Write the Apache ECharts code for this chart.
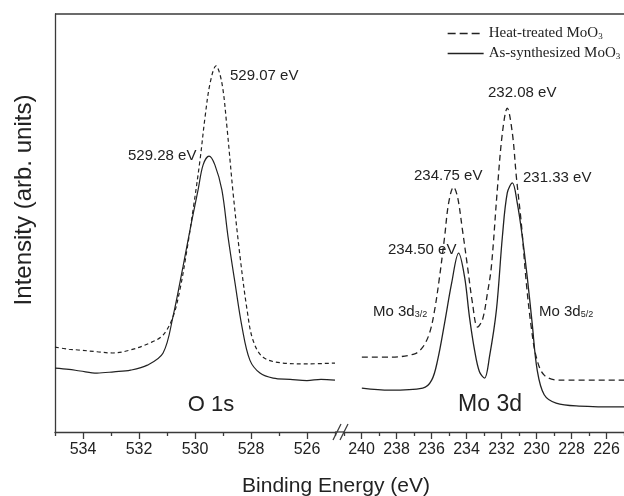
<!DOCTYPE html>
<html>
<head>
<meta charset="utf-8">
<script src="https://cdn.jsdelivr.net/npm/echarts@6/dist/echarts.min.js"></script>
<style>html,body{margin:0;padding:0;background:#fff;}#c{width:624px;height:496px;}</style>
</head>
<body>
<div id="c"></div>
<script>
// ---- data ----
const o1sAsE   = [535.0, 534.5, 534.1, 533.5, 532.9, 532.3, 531.7, 531.14, 530.79, 530.43, 530.11, 529.89, 529.71, 529.5, 529.29, 529.04, 528.82, 528.57, 528.32, 528.04, 527.68, 527.21, 526.6, 526.0, 525.5, 525.0];
const o1sAsI   = [15.3, 15.0, 14.6, 14.1, 14.4, 14.8, 16.0, 18.9, 27.5, 39.5, 50.7, 57.9, 63.9, 66.0, 63.9, 57.9, 46.7, 35.6, 25.1, 17.2, 14.1, 12.9, 12.6, 12.3, 12.6, 12.4];
const o1sHeatE = [535.0, 534.5, 534.11, 533.5, 532.93, 532.32, 531.61, 531.14, 530.79, 530.54, 530.29, 530.07, 529.82, 529.64, 529.46, 529.25, 529.04, 528.86, 528.64, 528.39, 528.14, 527.93, 527.57, 526.86, 526.0, 525.0];
const o1sHeatI = [20.3, 19.8, 19.6, 19.2, 18.9, 19.6, 21.3, 23.2, 27.5, 34.0, 43.5, 53.1, 65.1, 75.4, 83.5, 87.6, 83.5, 73.0, 57.2, 41.9, 29.2, 22.0, 17.9, 16.5, 16.3, 16.5];
const mo3dHeatE = [239.98, 238.38, 236.96, 236.5, 236.11, 235.82, 235.54, 235.25, 235.02, 234.74, 234.51, 234.23, 233.94, 233.66, 233.37, 233.09, 232.8, 232.58, 232.24, 231.95, 231.67, 231.38, 231.15, 230.87, 230.58, 230.3, 230.01, 229.56, 228.71, 225.0];
const mo3dHeatI = [17.9, 17.9, 18.7, 20.3, 23.7, 29.2, 37.1, 46.7, 54.8, 58.6, 56.2, 48.3, 39.5, 30.9, 25.1, 26.8, 33.3, 39.5, 57.9, 71.5, 77.5, 71.5, 61.0, 50.0, 35.6, 25.1, 17.9, 13.6, 12.4, 12.4];
const mo3dAsE   = [239.98, 238.38, 236.5, 235.99, 235.65, 235.25, 234.85, 234.45, 234.11, 233.83, 233.54, 233.26, 232.97, 232.69, 232.29, 231.95, 231.67, 231.38, 231.1, 230.81, 230.53, 230.25, 229.96, 229.56, 228.88, 227.57, 225.0];
const mo3dAsI   = [10.5, 10.0, 10.5, 12.4, 17.2, 26.1, 35.6, 42.8, 37.1, 27.5, 19.6, 14.4, 12.9, 17.9, 29.2, 46.7, 57.2, 59.6, 54.8, 46.7, 37.1, 26.1, 14.8, 8.9, 6.9, 6.2, 6.0];
const leftMajorTicks  = [534, 532, 530, 528, 526];
const leftMinorTicks  = [535, 533, 531, 529, 527, 525];
const rightMajorTicks = [240, 238, 236, 234, 232, 230, 228, 226];
const rightMinorTicks = [241, 239, 237, 235, 233, 231, 229, 227, 225];
const seriesNames = ['Heat-treated MoO3', 'As-synthesized MoO3'];

const pairs = (xs, ys) => xs.map((x, i) => [x, ys[i]]);
const SANS = "'Liberation Sans', Arial, sans-serif";
const SERIF = "'Liberation Serif', 'Times New Roman', serif";
const INK = '#222';
const AX = '#3a3a3a';

function mainX(grid, min, max, ticks) {
  return {
    type: 'value', gridIndex: grid, min: min, max: max, inverse: true, position: 'bottom',
    axisLine: { show: true, onZero: false, lineStyle: { color: AX, width: 1.3 } },
    axisTick: { show: true, inside: false, length: 7, customValues: ticks, lineStyle: { color: AX, width: 1.3 } },
    axisLabel: { show: true, customValues: ticks, margin: 10, fontSize: 16, color: INK, fontFamily: SANS },
    splitLine: { show: false }
  };
}
function minorX(grid, min, max, ticks) {
  return {
    type: 'value', gridIndex: grid, min: min, max: max, inverse: true, position: 'bottom',
    axisLine: { show: false, onZero: false },
    axisTick: { show: true, inside: false, length: 4, customValues: ticks, lineStyle: { color: AX, width: 1.3 } },
    axisLabel: { show: false },
    splitLine: { show: false }
  };
}
const lineBase = { type: 'line', showSymbol: false, symbol: 'none', smooth: 0.35, silent: true, animation: false };
const hiddenSym = { color: 'rgba(0,0,0,0)', borderWidth: 0, opacity: 0 };

const chart = echarts.init(document.getElementById('c'), null, { renderer: 'canvas' });
chart.setOption({
  animation: false,
  backgroundColor: '#fff',
  grid: [
    { left: 55, top: 14, width: 280, bottom: 64 },
    { left: 344, top: 14, width: 280, bottom: 64 }
  ],
  xAxis: [
    mainX(0, 525, 535, leftMajorTicks),
    mainX(1, 225, 241, rightMajorTicks),
    minorX(0, 525, 535, leftMinorTicks),
    minorX(1, 225, 241, rightMinorTicks)
  ],
  yAxis: [
    { type: 'value', gridIndex: 0, min: 0, max: 100, axisLine: { show: true, lineStyle: { color: AX, width: 1.3 } },
      axisTick: { show: false }, axisLabel: { show: false }, splitLine: { show: false } },
    { type: 'value', gridIndex: 1, min: 0, max: 100, show: false }
  ],
  legend: {
    orient: 'vertical', left: 447, top: 26, padding: 0, itemWidth: 36, itemHeight: 12, itemGap: 5,
    itemStyle: hiddenSym,
    data: [
      { name: seriesNames[0], itemStyle: hiddenSym, lineStyle: { type: [8, 4], width: 1.3, color: INK } },
      { name: seriesNames[1], itemStyle: hiddenSym, lineStyle: { type: 'solid', width: 1.3, color: INK } }
    ],
    formatter: n => '{t|' + n.slice(0, -1) + '}{s|' + n.slice(-1) + '}',
    textStyle: {
      color: INK,
      rich: {
        t: { fontFamily: SERIF, fontSize: 15, color: INK },
        s: { fontFamily: SERIF, fontSize: 9, color: INK, verticalAlign: 'bottom' }
      }
    },
    selectedMode: false
  },
  series: [
    Object.assign({}, lineBase, { name: seriesNames[0], xAxisIndex: 0, yAxisIndex: 0, data: pairs(o1sHeatE, o1sHeatI),
      lineStyle: { color: INK, width: 1.2, type: [4, 3] }, itemStyle: { color: INK } }),
    Object.assign({}, lineBase, { name: seriesNames[1], xAxisIndex: 0, yAxisIndex: 0, data: pairs(o1sAsE, o1sAsI),
      lineStyle: { color: INK, width: 1.2, type: 'solid' }, itemStyle: { color: INK } }),
    Object.assign({}, lineBase, { name: seriesNames[0], xAxisIndex: 1, yAxisIndex: 1, data: pairs(mo3dHeatE, mo3dHeatI),
      lineStyle: { color: INK, width: 1.3, type: [6, 4] }, itemStyle: { color: INK } }),
    Object.assign({}, lineBase, { name: seriesNames[1], xAxisIndex: 1, yAxisIndex: 1, data: pairs(mo3dAsE, mo3dAsI),
      lineStyle: { color: INK, width: 1.3, type: 'solid' }, itemStyle: { color: INK } })
  ],
  graphic: [
    // top frame line
    { type: 'line', shape: { x1: 55, y1: 14, x2: 624, y2: 14 }, style: { stroke: AX, lineWidth: 1.3 }, silent: true },
    // axis break
    { type: 'line', shape: { x1: 335, y1: 432, x2: 344, y2: 432 }, style: { stroke: AX, lineWidth: 1.3 }, silent: true },
    { type: 'line', shape: { x1: 333, y1: 440, x2: 341, y2: 424 }, style: { stroke: AX, lineWidth: 1.2 }, silent: true },
    { type: 'line', shape: { x1: 340, y1: 440, x2: 348, y2: 424 }, style: { stroke: AX, lineWidth: 1.2 }, silent: true },
    // axis titles
    { type: 'text', x: 24, y: 200, rotation: Math.PI / 2, silent: true,
      style: { text: 'Intensity (arb. units)', font: "24px " + SANS, fill: INK, align: 'center', verticalAlign: 'middle' } },
    { type: 'text', x: 336, y: 486, silent: true,
      style: { text: 'Binding Energy (eV)', font: "21px " + SANS, fill: INK, align: 'center', verticalAlign: 'middle' } },
    // region labels
    { type: 'text', x: 211, y: 405, silent: true,
      style: { text: 'O 1s', font: "22px " + SANS, fill: INK, align: 'center', verticalAlign: 'middle' } },
    { type: 'text', x: 490, y: 405, silent: true,
      style: { text: 'Mo 3d', font: "23px " + SANS, fill: INK, align: 'center', verticalAlign: 'middle' } },
    // peak annotations
    { type: 'text', x: 230, y: 76, silent: true, style: { text: '529.07 eV', font: "15px " + SANS, fill: INK, align: 'left', verticalAlign: 'middle' } },
    { type: 'text', x: 128, y: 156, silent: true, style: { text: '529.28 eV', font: "15px " + SANS, fill: INK, align: 'left', verticalAlign: 'middle' } },
    { type: 'text', x: 488, y: 93, silent: true, style: { text: '232.08 eV', font: "15px " + SANS, fill: INK, align: 'left', verticalAlign: 'middle' } },
    { type: 'text', x: 414, y: 176, silent: true, style: { text: '234.75 eV', font: "15px " + SANS, fill: INK, align: 'left', verticalAlign: 'middle' } },
    { type: 'text', x: 523, y: 178, silent: true, style: { text: '231.33 eV', font: "15px " + SANS, fill: INK, align: 'left', verticalAlign: 'middle' } },
    { type: 'text', x: 388, y: 250, silent: true, style: { text: '234.50 eV', font: "15px " + SANS, fill: INK, align: 'left', verticalAlign: 'middle' } },
    { type: 'text', x: 373, y: 312, silent: true,
      style: { text: '{m|Mo 3d}{s|3/2}', fill: INK, align: 'left', verticalAlign: 'middle',
        rich: { m: { fontFamily: SANS, fontSize: 15, color: INK }, s: { fontFamily: SANS, fontSize: 9, color: INK, verticalAlign: 'bottom' } } } },
    { type: 'text', x: 539, y: 312, silent: true,
      style: { text: '{m|Mo 3d}{s|5/2}', fill: INK, align: 'left', verticalAlign: 'middle',
        rich: { m: { fontFamily: SANS, fontSize: 15, color: INK }, s: { fontFamily: SANS, fontSize: 9, color: INK, verticalAlign: 'bottom' } } } }
  ]
});
</script>
</body>
</html>
